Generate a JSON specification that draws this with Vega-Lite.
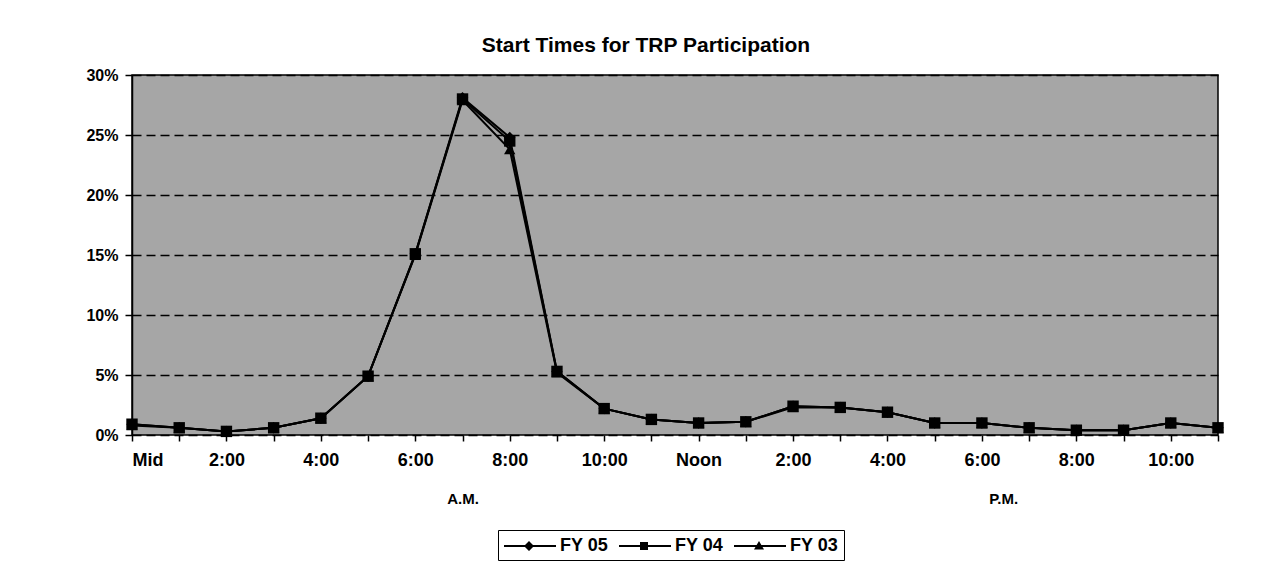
{
  "$schema": "https://vega.github.io/schema/vega-lite/v6.json",
  "autosize": {"type": "none"},
  "width": 1086,
  "height": 360,
  "padding": {"left": 132, "top": 75, "right": 51, "bottom": 129},
  "background": "#ffffff",
  "title": {"text": "Start Times for TRP Participation", "font": "Liberation Sans", "fontSize": 21, "fontWeight": "bold", "color": "#000", "anchor": "middle", "offset": 11, "dx": -29},
  "config": {
    "view": {"fill": "#a6a6a6", "stroke": "#000", "strokeWidth": 1.5},
    "axis": {"labelFont": "Liberation Sans", "labelFontWeight": "bold", "labelColor": "#000", "tickColor": "#000", "domainColor": "#000", "domainWidth": 1.5}
  },
  "data": {"values": [
    {"hour": 0, "series": "FY 05", "pct": 0.9}, {"hour": 0, "series": "FY 04", "pct": 0.9}, {"hour": 0, "series": "FY 03", "pct": 0.8},
    {"hour": 1, "series": "FY 05", "pct": 0.6}, {"hour": 1, "series": "FY 04", "pct": 0.6}, {"hour": 1, "series": "FY 03", "pct": 0.6},
    {"hour": 2, "series": "FY 05", "pct": 0.3}, {"hour": 2, "series": "FY 04", "pct": 0.3}, {"hour": 2, "series": "FY 03", "pct": 0.3},
    {"hour": 3, "series": "FY 05", "pct": 0.6}, {"hour": 3, "series": "FY 04", "pct": 0.6}, {"hour": 3, "series": "FY 03", "pct": 0.6},
    {"hour": 4, "series": "FY 05", "pct": 1.4}, {"hour": 4, "series": "FY 04", "pct": 1.4}, {"hour": 4, "series": "FY 03", "pct": 1.4},
    {"hour": 5, "series": "FY 05", "pct": 4.9}, {"hour": 5, "series": "FY 04", "pct": 4.9}, {"hour": 5, "series": "FY 03", "pct": 4.9},
    {"hour": 6, "series": "FY 05", "pct": 15.1}, {"hour": 6, "series": "FY 04", "pct": 15.1}, {"hour": 6, "series": "FY 03", "pct": 15.0},
    {"hour": 7, "series": "FY 05", "pct": 28.1}, {"hour": 7, "series": "FY 04", "pct": 28.0}, {"hour": 7, "series": "FY 03", "pct": 27.9},
    {"hour": 8, "series": "FY 05", "pct": 24.8}, {"hour": 8, "series": "FY 04", "pct": 24.5}, {"hour": 8, "series": "FY 03", "pct": 23.8},
    {"hour": 9, "series": "FY 05", "pct": 5.3}, {"hour": 9, "series": "FY 04", "pct": 5.3}, {"hour": 9, "series": "FY 03", "pct": 5.2},
    {"hour": 10, "series": "FY 05", "pct": 2.2}, {"hour": 10, "series": "FY 04", "pct": 2.2}, {"hour": 10, "series": "FY 03", "pct": 2.2},
    {"hour": 11, "series": "FY 05", "pct": 1.3}, {"hour": 11, "series": "FY 04", "pct": 1.3}, {"hour": 11, "series": "FY 03", "pct": 1.3},
    {"hour": 12, "series": "FY 05", "pct": 1.0}, {"hour": 12, "series": "FY 04", "pct": 1.0}, {"hour": 12, "series": "FY 03", "pct": 1.0},
    {"hour": 13, "series": "FY 05", "pct": 1.1}, {"hour": 13, "series": "FY 04", "pct": 1.1}, {"hour": 13, "series": "FY 03", "pct": 1.1},
    {"hour": 14, "series": "FY 05", "pct": 2.4}, {"hour": 14, "series": "FY 04", "pct": 2.4}, {"hour": 14, "series": "FY 03", "pct": 2.3},
    {"hour": 15, "series": "FY 05", "pct": 2.3}, {"hour": 15, "series": "FY 04", "pct": 2.3}, {"hour": 15, "series": "FY 03", "pct": 2.3},
    {"hour": 16, "series": "FY 05", "pct": 1.9}, {"hour": 16, "series": "FY 04", "pct": 1.9}, {"hour": 16, "series": "FY 03", "pct": 1.9},
    {"hour": 17, "series": "FY 05", "pct": 1.0}, {"hour": 17, "series": "FY 04", "pct": 1.0}, {"hour": 17, "series": "FY 03", "pct": 1.0},
    {"hour": 18, "series": "FY 05", "pct": 1.0}, {"hour": 18, "series": "FY 04", "pct": 1.0}, {"hour": 18, "series": "FY 03", "pct": 1.0},
    {"hour": 19, "series": "FY 05", "pct": 0.6}, {"hour": 19, "series": "FY 04", "pct": 0.6}, {"hour": 19, "series": "FY 03", "pct": 0.6},
    {"hour": 20, "series": "FY 05", "pct": 0.4}, {"hour": 20, "series": "FY 04", "pct": 0.4}, {"hour": 20, "series": "FY 03", "pct": 0.4},
    {"hour": 21, "series": "FY 05", "pct": 0.4}, {"hour": 21, "series": "FY 04", "pct": 0.4}, {"hour": 21, "series": "FY 03", "pct": 0.4},
    {"hour": 22, "series": "FY 05", "pct": 1.0}, {"hour": 22, "series": "FY 04", "pct": 1.0}, {"hour": 22, "series": "FY 03", "pct": 1.0},
    {"hour": 23, "series": "FY 05", "pct": 0.6}, {"hour": 23, "series": "FY 04", "pct": 0.6}, {"hour": 23, "series": "FY 03", "pct": 0.6}
  ]},
  "resolve": {"axis": {"x": "independent"}, "scale": {"shape": "independent"}},
  "layer": [
    {
      "mark": {"type": "line", "color": "#000", "strokeWidth": 2},
      "encoding": {
        "x": {"field": "hour", "type": "quantitative", "scale": {"domain": [0, 23], "nice": false, "zero": false},
          "axis": {"orient": "bottom", "title": null, "values": [0,1,2,3,4,5,6,7,8,9,10,11,12,13,14,15,16,17,18,19,20,21,22,23], "grid": false, "tickSize": 6, "tickWidth": 1.5, "labelFontSize": 18, "labelPadding": 10, "labelOverlap": false, "domain": false,
            "labelExpr": "datum.value % 2 != 0 ? '' : (datum.value == 0 ? 'Mid' : (datum.value == 12 ? 'Noon' : (datum.value % 12) + ':00'))"}},
        "y": {"field": "pct", "type": "quantitative", "scale": {"domain": [0, 30], "nice": false},
          "axis": {"title": null, "values": [0,5,10,15,20,25,30], "labelFontSize": 16, "labelPadding": 7, "tickSize": 7, "tickWidth": 1.5,
            "labelExpr": "datum.value + '%'", "grid": true, "gridColor": "#000", "gridDash": [9, 5], "gridWidth": 1.5, "domain": true}},
        "detail": {"field": "series"},
        "order": {"field": "hour"}
      }
    },
    {
      "mark": {"type": "point", "filled": true, "color": "#000", "opacity": 1, "size": 130},
      "encoding": {
        "x": {"field": "hour", "type": "quantitative", "axis": null},
        "y": {"field": "pct", "type": "quantitative"},
        "shape": {"field": "series", "type": "nominal", "sort": ["FY 03", "FY 04", "FY 05"], "scale": {"domain": ["FY 05", "FY 04", "FY 03"], "range": ["diamond", "square", "triangle-up"]}, "legend": null}
      }
    },
    {
      "mark": {"type": "point", "filled": true, "color": "#000", "opacity": 0},
      "encoding": {
        "x": {"field": "hour", "type": "quantitative",
          "axis": {"orient": "bottom", "title": null, "values": [7, 18.45], "ticks": false, "domain": false, "grid": false, "labelFontSize": 15, "labelPadding": 56,
            "labelExpr": "datum.value < 12 ? 'A.M.' : 'P.M.'"}},
        "y": {"field": "pct", "type": "quantitative"},
        "shape": {"field": "series", "type": "nominal",
          "scale": {"domain": ["FY 05", "FY 04", "FY 03"], "range": [
            "M-1,-0.1H4.2V0.1H-1ZM1.5,-0.5L2,0L1.5,0.5L1,0Z",
            "M-1,-0.1H4.2V0.1H-1ZM1.1,-0.4H1.9V0.4H1.1Z",
            "M-1,-0.1H4.2V0.1H-1ZM1.5,-0.5L2,0.35H1Z"]},
          "legend": {"title": null, "orient": "none", "legendX": 366, "legendY": 455, "direction": "horizontal", "symbolSize": 400, "labelFont": "Liberation Sans", "labelFontWeight": "bold", "labelFontSize": 18, "labelColor": "#000", "labelOffset": 35, "columnPadding": 7, "strokeColor": "#000", "padding": 5,
            "encode": {"symbols": {"update": {"opacity": {"value": 1}, "fill": {"value": "#000"}, "fillOpacity": {"value": 1}}}}}}
      }
    }
  ]
}
